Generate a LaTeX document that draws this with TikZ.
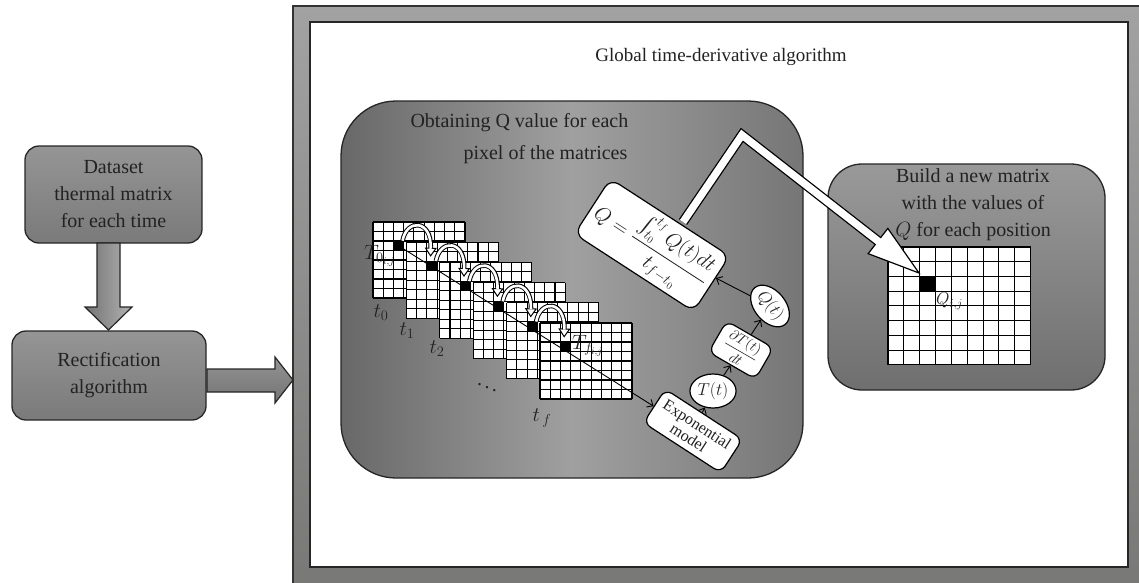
\documentclass[tikz,border=0pt]{standalone}
\usepackage{amsmath}
\usepackage{fontspec}
\setmainfont{Liberation Serif}
\usetikzlibrary{arrows.meta,calc,shapes.geometric}

\definecolor{inkc}{HTML}{222222}
\definecolor{frameTop}{HTML}{A2A2A2}
\definecolor{frameBot}{HTML}{777776}
\definecolor{boxTop}{HTML}{959595}
\definecolor{boxBot}{HTML}{7A7A7A}
\definecolor{midL}{HTML}{686868}
\definecolor{midM}{HTML}{A0A0A0}
\definecolor{midR}{HTML}{767676}
\definecolor{rbTop}{HTML}{999999}
\definecolor{rbBot}{HTML}{6F6F6F}

\tikzset{
  bigfont/.style={font=\fontsize{20}{27}\selectfont},
  stepbox/.style={draw=black!85, line width=1.3pt, rounded corners=14pt,
    top color=boxTop, bottom color=boxBot, align=center, text=inkc, bigfont, inner sep=0pt},
  blockarrow/.style={draw=black!85, line width=1.2pt, line join=miter},
  whitebox/.style={draw=black, line width=1.2pt, fill=white, rounded corners=8pt,
    inner sep=2pt, align=center, text=inkc},
  whiteoval/.style={draw=black, line width=1.2pt, fill=white, ellipse, inner sep=1pt, text=inkc},
  flowarrow/.style={draw=black, line width=0.9pt, -{Straight Barb[length=5pt,width=9pt]}},
  celllines/.style={line width=1.1pt, black},
  thermgrid/.pic={
    \fill[white] (0,0) rectangle (92,76);
    \foreach \i in {0,...,9} \draw[celllines] ({\i*92/9},0) -- ({\i*92/9},76);
    \foreach \j in {0,...,8} \draw[celllines] (0,{\j*9.5}) -- (92,{\j*9.5});
    \fill[black] ({2*92/9},19) rectangle ({3*92/9},28.5);
  },
}

\begin{document}
\begin{tikzpicture}[x=1pt,y=-1pt]
\useasboundingbox (0,0) rectangle (1139,582);

% outer frame of the global algorithm
\begin{scope}
  \clip (0,0) rectangle (1139,582);
  \fill[top color=frameTop, bottom color=frameBot] (293,6) rectangle (1150,600);
  \draw[line width=1.2pt, black!80] (293,600) -- (293,6) -- (1150,6);
\end{scope}
\draw[fill=white, draw=black!85, line width=1.5pt] (310,22) rectangle (1128,567);

\node[font=\fontsize{19}{19}\selectfont, text=inkc] (title) at (721,57) {Global time-derivative algorithm};

% input stage
\node[stepbox, minimum width=177pt, minimum height=97pt] (data) at (113.5,194.5)
  {Dataset\\thermal matrix\\for each time};
\node[stepbox, minimum width=194pt, minimum height=89pt] (rect) at (109,375.5)
  {Rectification\\algorithm};

\draw[blockarrow, left color=black!55, right color=black!30]
  (97,243) -- (97,307) -- (85,307) -- (108.5,330) -- (132,307) -- (120,307) -- (120,243) -- cycle;
\draw[blockarrow, top color=black!42, bottom color=black!55]
  (207,369) -- (275,369) -- (275,357) -- (293,380) -- (275,403) -- (275,392) -- (207,392) -- cycle;

% Q per pixel stage
\draw[draw=black!85, line width=1.3pt, rounded corners=55pt,
  left color=midL, right color=midR, middle color=midM] (341,101) rectangle (803,478);
\node[bigfont, text=inkc, anchor=west] (obt1) at (407,123) {Obtaining Q value for each};
\node[bigfont, text=inkc, anchor=west] (obt2) at (460,155) {pixel of the matrices};

\foreach \k in {0,...,5} {
  \pic at ({373+33.4*\k},{222+20.2*\k}) {thermgrid};
  \coordinate (c\k) at ({373+33.4*\k+25.55},{222+20.2*\k+23.75});
}

\node[whitebox, rotate=-33, font=\fontsize{16}{16}\selectfont, minimum width=92pt,
  minimum height=40pt, inner sep=1pt] (expm) at (693,431) {Exponential\\model};
\draw[flowarrow] (c0) -- (expm);

% time hops between matrices
\foreach \k in {0,...,4} {
  \draw[line width=4.6pt, black,
    -{Triangle[length=9pt,width=12pt,fill=white,line width=1pt]}]
    ($(c\k)+(4,-5)$) .. controls ($(c\k)+(8,-27)$) and ($(c\k)+(33,-27)$) .. ($(c\k)+(32,11)$);
  \draw[line width=2.6pt, white, shorten >=8pt]
    ($(c\k)+(4,-5)$) .. controls ($(c\k)+(8,-27)$) and ($(c\k)+(33,-27)$) .. ($(c\k)+(32,11)$);
}

\node[font=\fontsize{20}{20}\selectfont, text=inkc, anchor=west, inner sep=0pt] (T0) at (364,256) {$T_{0_{i,j}}$};
\node[font=\fontsize{20}{20}\selectfont, text=inkc, anchor=west, inner sep=0pt] (Tf) at (572,346) {$T_{f_{i,j}}$};
\node[font=\fontsize{20}{20}\selectfont, text=inkc] (lt0) at (381,313) {$t_0$};
\node[font=\fontsize{20}{20}\selectfont, text=inkc] (lt1) at (407,331) {$t_1$};
\node[font=\fontsize{20}{20}\selectfont, text=inkc] (lt2) at (437,349) {$t_2$};
\node[font=\fontsize{20}{20}\selectfont, text=inkc] (ldots) at (487,384) {$\ddots$};
\node[font=\fontsize{20}{20}\selectfont, text=inkc] (ltf) at (542,418) {$t_{\,f}$};

% new matrix stage
\draw[draw=black!85, line width=1.3pt, rounded corners=34pt,
  top color=rbTop, bottom color=rbBot] (828,164) rectangle (1105,390);
\node[bigfont, text=inkc, align=center] (build) at (973,205)
  {Build a new matrix\\with the values of\\ $Q$ for each position};
\pic[scale=1.55] at (888,247) {thermgrid};
\coordinate (qcell) at (919,273);
\node[font=\fontsize{18}{18}\selectfont, text=inkc, anchor=west, inner sep=0pt] (qij) at (936,301) {$Q_{i,j}$};

% big transfer arrow
\coordinate (bs) at (683,222);
\coordinate (ba) at (742,135);
\coordinate (bt) at (qcell);
\coordinate (hb) at ($(bt)!52pt!(ba)$);
\coordinate (hc1) at ($(hb)!16pt!90:(bt)$);
\coordinate (hc2) at ($(hb)!16pt!-90:(bt)$);
\draw[line width=10pt, black, line join=miter] (bs) -- (ba) -- (hb);
\draw[fill=white, draw=black, line width=1.2pt, line join=miter] (bt) -- (hc1) -- (hc2) -- cycle;
\draw[line width=7.4pt, white, line join=miter] (bs) -- (ba) -- ($(hb)!-3pt!(ba)$);

% formula chain
\node[whitebox, rotate=-33, minimum width=142pt, minimum height=66pt, rounded corners=10pt,
  font=\fontsize{20}{20}\selectfont] (form) at (652,245)
  {$Q = \dfrac{\int_{t_0}^{t_f} Q(t)dt}{t_{f-t_0}}$};
\node[whiteoval, minimum width=46pt, minimum height=34pt, font=\fontsize{17}{17}\selectfont] (Tt) at (713,391) {$T(t)$};
\node[whitebox, rotate=-30, rounded corners=8pt, inner sep=1pt, minimum width=54pt, minimum height=36pt,
  font=\fontsize{15}{15}\selectfont] (dT) at (741,350) {$\dfrac{\partial T(t)}{dt}$};
\node[whiteoval, rotate=-50, minimum width=46pt, minimum height=31pt, font=\fontsize{16}{16}\selectfont] (Qt) at (770,306) {$Q(t)$};

\draw[flowarrow] (expm) -- (Tt);
\draw[flowarrow] (Tt) -- (dT);
\draw[flowarrow] (dT) -- (Qt);
\draw[flowarrow] (Qt) -- (form);
\end{tikzpicture}
\end{document}
